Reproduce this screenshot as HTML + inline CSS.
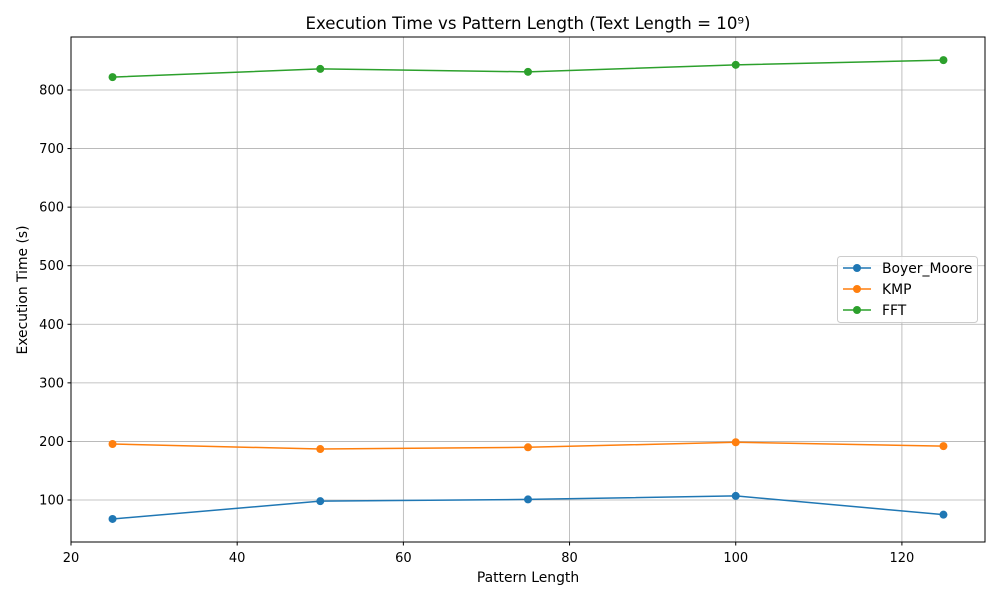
<!DOCTYPE html>
<html><head><meta charset="utf-8"><style>
body{margin:0;background:#fff;font-family:"Liberation Sans","DejaVu Sans",sans-serif;}
svg text{font-family:"DejaVu Sans","Liberation Sans",sans-serif;}
</style></head><body>
<svg id="chart" width="1000" height="600" xmlns="http://www.w3.org/2000/svg">
<rect width="1000" height="600" fill="#fff"/>
<g id="grid"></g>
<g id="series"></g>
<rect x="71" y="37" width="914" height="505" fill="none" stroke="#000" stroke-width="1"/>
<g id="axes"></g>
<text x="528" y="29" font-size="16.6" text-anchor="middle">Execution Time vs Pattern Length (Text Length = 10⁹)</text>
<text x="528" y="582" font-size="13.9" text-anchor="middle">Pattern Length</text>
<text transform="translate(27,290) rotate(-90)" font-size="13.9" text-anchor="middle">Execution Time (s)</text>
<g id="legend">
<rect x="837.5" y="256.5" width="140" height="66" rx="3" fill="#fff" fill-opacity="0.8" stroke="#ccc"/>
</g>
</svg>
<script>
const categories=[25,50,75,100,125];
const boyerMoore=[67.6,98,101,107,75];
const kmp=[195.6,187,190,198.6,192];
const fft=[822,836,831,843,851];
const xTicks=[20,40,60,80,100,120];
const yTicks=[100,200,300,400,500,600,700,800];
const seriesNames=["Boyer_Moore","KMP","FFT"];
const ns="http://www.w3.org/2000/svg";
const L=71,R=985,T=37,B=542;
const xs=v=>L+(v-20)*(R-L)/110;
const ys=v=>500-(v-100)*410/700;
function mk(tag,attrs,parent){const e=document.createElementNS(ns,tag);for(const k in attrs)e.setAttribute(k,attrs[k]);parent.appendChild(e);return e;}
const grid=document.getElementById('grid'),axes=document.getElementById('axes'),ser=document.getElementById('series'),leg=document.getElementById('legend');
xTicks.forEach(t=>{const x=xs(t);
 const g=mk('line',{x1:x,x2:x,y1:T,y2:B,stroke:'#b0b0b0','stroke-width':0.8},grid);
 
 mk('line',{x1:x,x2:x,y1:B,y2:B+3.5,stroke:'#000'},axes);
 const tx=mk('text',{x:x,y:B+20,'font-size':13,'text-anchor':'middle'},axes);tx.textContent=t;
 });
yTicks.forEach(t=>{const y=ys(t);
 const g=mk('line',{x1:L,x2:R,y1:y,y2:y,stroke:'#b0b0b0','stroke-width':0.8},grid);
 
 mk('line',{x1:L-3.5,x2:L,y1:y,y2:y,stroke:'#000'},axes);
 const tx=mk('text',{x:L-7,y:y+4.5,'font-size':13,'text-anchor':'end'},axes);tx.textContent=t;
 });
const data=[boyerMoore,kmp,fft],colors=['#1f77b4','#ff7f0e','#2ca02c'];
data.forEach((vals,i)=>{
 const p=mk('polyline',{points:vals.map((v,j)=>xs(categories[j])+','+ys(v)).join(' '),fill:'none',stroke:colors[i],'stroke-width':1.5},ser);
 
 vals.forEach((v,j)=>{const c=mk('circle',{cx:xs(categories[j]),cy:ys(v),r:4,fill:colors[i]},ser);
  });
 const ly=268+i*21;
 const e=mk('g',{},leg);
 
 mk('line',{x1:843,x2:871,y1:ly,y2:ly,stroke:colors[i],'stroke-width':1.5},e);
 mk('circle',{cx:857,cy:ly,r:4,fill:colors[i]},e);
 const t=mk('text',{x:882,y:ly+5,'font-size':13.9},e);t.textContent=seriesNames[i];
});
</script>
</body></html>
